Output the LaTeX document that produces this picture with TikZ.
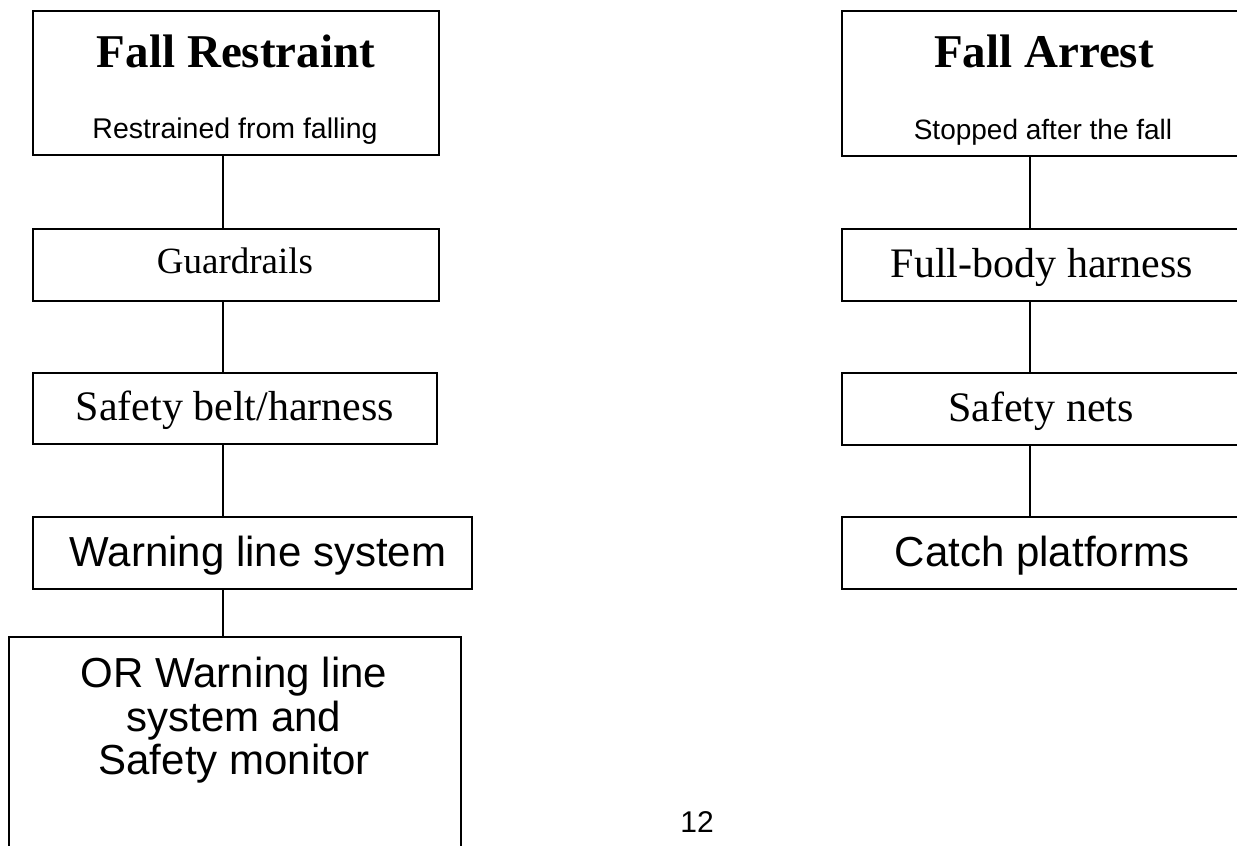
\documentclass[tikz,border=0pt]{standalone}
\usepackage{fontspec}
\newfontfamily\tnr{Liberation Serif}
\newfontfamily\ari{Liberation Sans}
\begin{document}
\begin{tikzpicture}[x=1pt,y=-1pt,
  boxst/.style={draw=black, line width=1.6pt, rectangle, inner sep=0pt, anchor=north west},
  link/.style={draw=black, line width=1.6pt},
  txt/.style={inner sep=0pt, anchor=base, text=black}]
\useasboundingbox (0,0) rectangle (1237,846);
\clip (0,0) rectangle (1237,846);
\fill[white] (0,0) rectangle (1237,846);
% left column
\node[boxst, minimum width=406pt, minimum height=144pt] (fr) at (32,10) {};
\node[txt, font=\tnr\bfseries\fontsize{47}{56}\selectfont] (frt) at (236,67) {Fall Restraint};
\node[txt, font=\ari\fontsize{28.5}{34}\selectfont] (frs) at (235,138) {Restrained from falling};
\node[boxst, minimum width=406pt, minimum height=72pt] (gr) at (32,228) {};
\node[txt, font=\tnr\fontsize{37}{44}\selectfont] (grt) at (235,273) {Guardrails};
\node[boxst, minimum width=404pt, minimum height=71pt] (sb) at (32,372) {};
\node[txt, font=\tnr\fontsize{42}{50}\selectfont] (sbt) at (235,420) {Safety belt/harness};
\node[boxst, minimum width=439pt, minimum height=72pt] (wl) at (32,516) {};
\node[txt, font=\ari\fontsize{42}{50}\selectfont] (wlt) at (258,566) {Warning line system};
\node[boxst, minimum width=452pt, minimum height=260pt] (or) at (8,636) {};
\node[txt, font=\ari\fontsize{42}{50}\selectfont] (or1) at (234,687) {OR Warning line};
\node[txt, font=\ari\fontsize{42}{50}\selectfont] (or2) at (234,731) {system and};
\node[txt, font=\ari\fontsize{42}{50}\selectfont] (or3) at (234,774) {Safety monitor};
\coordinate (lx) at (223,0);
\draw[link] (fr.south -| lx) -- (gr.north -| lx);
\draw[link] (gr.south -| lx) -- (sb.north -| lx);
\draw[link] (sb.south -| lx) -- (wl.north -| lx);
\draw[link] (wl.south -| lx) -- (or.north -| lx);
% right column
\node[boxst, minimum width=402pt, minimum height=145pt] (fa) at (841,10) {};
\node[txt, font=\tnr\bfseries\fontsize{47}{56}\selectfont] (fat) at (1044,67) {Fall Arrest};
\node[txt, font=\ari\fontsize{28}{34}\selectfont] (fas) at (1043,139) {Stopped after the fall};
\node[boxst, minimum width=402pt, minimum height=72pt] (fb) at (841,228) {};
\node[txt, font=\tnr\fontsize{42}{50}\selectfont] (fbt) at (1042,277) {Full-body harness};
\node[boxst, minimum width=402pt, minimum height=72pt] (sn) at (841,372) {};
\node[txt, font=\tnr\fontsize{42}{50}\selectfont] (snt) at (1041,421) {Safety nets};
\node[boxst, minimum width=402pt, minimum height=72pt] (cp) at (841,516) {};
\node[txt, font=\ari\fontsize{42}{50}\selectfont] (cpt) at (1042,566) {Catch platforms};
\coordinate (rx) at (1030,0);
\draw[link] (fa.south -| rx) -- (fb.north -| rx);
\draw[link] (fb.south -| rx) -- (sn.north -| rx);
\draw[link] (sn.south -| rx) -- (cp.north -| rx);
% page number
\node[txt, font=\ari\fontsize{30}{36}\selectfont] (pg) at (697,832) {12};
\end{tikzpicture}
\end{document}
